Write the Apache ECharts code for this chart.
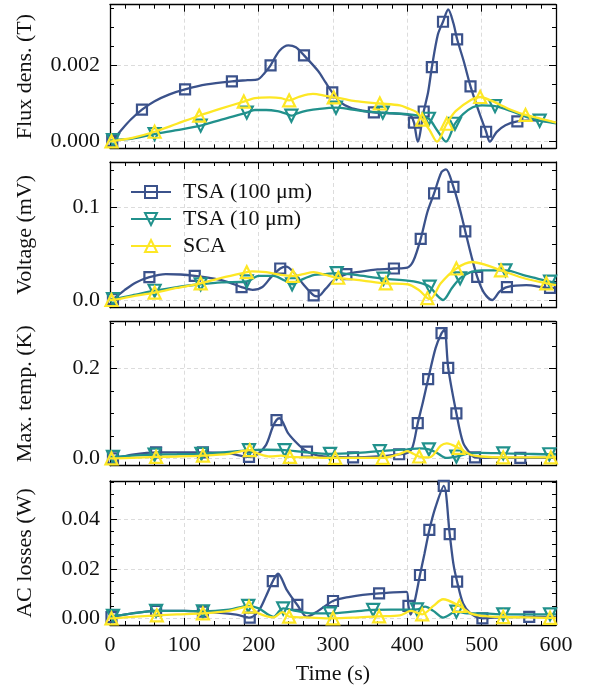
<!DOCTYPE html>
<html><head><meta charset="utf-8">
<script src="https://cdn.jsdelivr.net/npm/echarts@6/dist/echarts.min.js"></script>
<style>html,body{margin:0;padding:0;background:#fff}#c{width:589px;height:690px}</style>
</head><body><div id="c"></div>
<script>
// ---------- data ----------
const xTicks = [0, 100, 200, 300, 400, 500, 600];
const seriesNames = ['TSA (100 μm)', 'TSA (10 μm)', 'SCA'];
const yNames = ['Flux dens. (T)', 'Voltage (mV)', 'Max. temp. (K)', 'AC losses (W)'];
const yMin = [-0.000173, -0.0083, -0.0164, -0.0027];
const yMax = [0.003586, 0.1489, 0.3036, 0.05548];
const yStep = [0.002, 0.1, 0.2, 0.02];
const yMinorSplit = [4, 5, 4, 4];
const yDecimals = [3, 1, 1, 2];

// Flux density
const fluxTSA100 = [[0,0],[15,0.0003],[28,0.00058],[60,0.00106],[80,0.00124],[130,0.0015],[185,0.00161],[199,0.00163],[208,0.0018],[228,0.00238],[240,0.00252],[250,0.00247],[280,0.00185],[290,0.00155],[309,0.00105],[323,0.00089],[340,0.00081],[380,0.00074],[400,0.00071],[405,0.00067],[414,0.0],[428,0.0013],[441,0.0028],[455,0.00346],[462,0.0031],[476,0.0021],[496,0.0008],[511,0.0],[520,0.00025],[532,0.00043],[570,0.00056],[600,0.0005]];
const fluxTSA100Marks = [[3,0.00002],[43,0.00084],[101,0.00137],[164,0.00158],[216,0.002],[261,0.00226],[299,0.00129],[355,0.00077],[409,0.0005],[422,0.00079],[433,0.00195],[448,0.00314],[467,0.00268],[485,0.00145],[506,0.00026],[548,0.00053]];
const fluxTSA10 = [[0,0],[30,0.00008],[90,0.0003],[150,0.00058],[195,0.00083],[210,0.00083],[225,0.0008],[236,0.00074],[252,0.00074],[265,0.00081],[282,0.00086],[320,0.00086],[340,0.0008],[400,0.00072],[415,0.00068],[440,0.0003],[452,0.0],[475,0.00072],[488,0.0009],[500,0.00095],[540,0.0008],[560,0.00065],[600,0.00048]];
const fluxTSA10Marks = [[4,0.00004],[60,0.0002],[122,0.00042],[184,0.00076],[244,0.00068],[304,0.00089],[367,0.00076],[429,0.0006],[464,0.00047],[518,0.00093],[578,0.00055]];
const fluxSCA = [[0,0],[30,0.0001],[90,0.00047],[150,0.00087],[195,0.00114],[215,0.00116],[230,0.00114],[255,0.00118],[273,0.00125],[290,0.0012],[309,0.00114],[330,0.00106],[390,0.00095],[400,0.00088],[412,0.00078],[430,0.0003],[440,0.0],[465,0.0008],[486,0.0011],[512,0.00108],[540,0.00083],[580,0.0006],[600,0.0005]];
const fluxSCAMarks = [[2,0.00001],[60,0.00026],[120,0.00068],[180,0.00105],[241,0.00108],[301,0.00116],[363,0.001],[420,0.00058],[453,0.00047],[498,0.00117],[559,0.0007]];

// Voltage
const voltTSA100 = [[0,0],[20,0.011],[35,0.019],[75,0.028],[95,0.0275],[140,0.023],[160,0.019],[192,0.011],[205,0.014],[217,0.025],[237,0.036],[247,0.03],[260,0.017],[280,0.004],[290,0.012],[302,0.022],[340,0.031],[360,0.033],[400,0.035],[408,0.042],[427,0.095],[446,0.138],[452,0.141],[470,0.1],[486,0.048],[503,0.008],[514,0],[524,0.009],[560,0.016],[600,0.013]];
const voltTSA100Marks = [[4,0.001],[53,0.0247],[114,0.026],[177,0.014],[229,0.034],[274,0.005],[318,0.028],[382,0.034],[418,0.066],[436,0.115],[462,0.122],[478,0.074],[494,0.025],[534,0.014],[592,0.013]];
const voltTSA10 = [[0,0],[30,0.005],[90,0.014],[150,0.019],[200,0.026],[220,0.026],[235,0.021],[258,0.022],[275,0.027],[290,0.028],[330,0.027],[400,0.021],[415,0.019],[440,0.005],[448,0],[460,0.013],[485,0.03],[500,0.032],[560,0.026],[600,0.018]];
const voltTSA10Marks = [[4,0.001],[60,0.01],[122,0.017],[184,0.02],[245,0.017],[305,0.029],[368,0.023],[430,0.0144],[471,0.0234],[532,0.032],[592,0.0198]];
const voltSCA = [[0,0],[30,0.004],[90,0.013],[150,0.024],[191,0.031],[210,0.03],[230,0.027],[260,0.028],[274,0.03],[290,0.027],[340,0.021],[400,0.017],[415,0.011],[431,0.001],[445,0.018],[487,0.041],[505,0.038],[555,0.024],[600,0.016]];
const voltSCAMarks = [[2,0],[60,0.008],[122,0.018],[184,0.03],[246,0.026],[307,0.024],[371,0.018],[427,0.002],[466,0.034],[526,0.032],[587,0.018]];

// Max temperature
const tempTSA100 = [[0,0],[30,0.008],[100,0.013],[160,0.011],[197,0.007],[210,0.03],[219,0.07],[228,0.089],[240,0.055],[255,0.028],[280,0.006],[300,0.003],[360,0.004],[400,0.012],[407,0.025],[421,0.125],[438,0.245],[450,0.286],[475,0.035],[485,0.01],[520,0.001],[600,0.001]];
const tempTSA100Marks = [[4,0],[62,0.013],[125,0.013],[187,0.003],[224,0.085],[265,0.015],[327,0.002],[389,0.009],[414,0.078],[428,0.176],[446,0.278],[455,0.201],[466,0.1],[491,0.002],[552,0.001]];
const tempTSA10 = [[0,0.003],[30,0.006],[90,0.009],[160,0.014],[210,0.019],[260,0.014],[330,0.012],[400,0.02],[417,0.022],[440,0.012],[452,0.001],[480,0.01],[500,0.012],[560,0.01],[600,0.009]];
const tempTSA10Marks = [[4,0.003],[60,0.008],[123,0.01],[187,0.018],[235,0.018],[296,0.01],[363,0.016],[429,0.02],[466,0.004],[529,0.011],[591,0.009]];
const tempSCA = [[0,0],[30,0.001],[90,0.004],[160,0.01],[200,0.01],[215,0.004],[230,0.006],[270,0.002],[330,0.001],[390,0.01],[400,0.016],[408,0.01],[430,0.002],[445,0.028],[453,0.033],[485,0.008],[500,0.004],[560,0.002],[600,0.002]];
const tempSCAMarks = [[2,0],[62,0.003],[125,0.006],[188,0.018],[242,0.003],[303,0.001],[367,0.001],[416,0.004],[469,0.023],[529,0.002],[593,0.002]];

// AC losses
const lossTSA100 = [[0,0],[30,0.002],[100,0.003],[170,0.0015],[200,0.003],[210,0.009],[226,0.018],[238,0.0114],[265,0.0006],[280,0.003],[323,0.0087],[340,0.0095],[399,0.0107],[404.5,0.0015],[410,0.007],[423,0.026],[438,0.045],[462,0.022],[475,0.006],[485,0.002],[530,0.0005],[600,0.0005]];
const lossTSA100Marks = [[2,0.0005],[62,0.003],[125,0.0027],[188,0.0003],[219,0.015],[252,0.0054],[300,0.007],[362,0.0101],[401.5,0.005],[417,0.0175],[429.6,0.0357],[449,0.0535],[457,0.034],[467,0.0148],[501,0],[564,0.0006]];
const lossTSA10 = [[0,0.001],[30,0.002],[100,0.003],[160,0.0035],[200,0.004],[220,0.0006],[228,0.003],[250,0.003],[270,0.002],[330,0.0028],[390,0.0035],[424,0.0047],[435,0.003],[448,0.0003],[480,0.002],[500,0.002],[560,0.0016],[600,0.0016]];
const lossTSA10Marks = [[4,0.001],[62,0.003],[125,0.0028],[186,0.005],[233,0.004],[296,0.002],[354,0.0034],[413,0.0036],[466,0.0027],[529,0.0016],[592,0.0016]];
const lossSCA = [[0,0],[30,0.0006],[90,0.0016],[160,0.003],[200,0.002],[220,0.0004],[232,0.0025],[270,0.0003],[330,0.0003],[390,0.0012],[405,0.003],[435,0.005],[448,0.0077],[485,0.002],[500,0.001],[560,0.0004],[600,0.0002]];
const lossSCAMarks = [[2,0],[63,0.0012],[125,0.002],[187,0.0047],[241,0.0007],[300,0],[362,0.0008],[420,0.0016],[470,0.005],[529,0.0005],[592,0.0002]];

const panelCurves = [
  [[fluxTSA100, fluxTSA100Marks], [fluxTSA10, fluxTSA10Marks], [fluxSCA, fluxSCAMarks]],
  [[voltTSA100, voltTSA100Marks], [voltTSA10, voltTSA10Marks], [voltSCA, voltSCAMarks]],
  [[tempTSA100, tempTSA100Marks], [tempTSA10, tempTSA10Marks], [tempSCA, tempSCAMarks]],
  [[lossTSA100, lossTSA100Marks], [lossTSA10, lossTSA10Marks], [lossSCA, lossSCAMarks]]
];

// ---------- style ----------
const FONT = "'Liberation Serif', serif";
const colors = ['#3b528b', '#21918c', '#fde725'];
const symbols = ['rect', 'path://M0,0L2,0L1,2Z', 'path://M1,0L2,2L0,2Z'];
const symSizes = [10, 12, 12];
const gridTops = [4.7, 162, 321.7, 481];
const gridHeights = [143.6, 145.7, 144, 144];

function merge(curve, marks) {
  const pts = curve.filter(p => !marks.some(m => Math.abs(m[0] - p[0]) < 1))
    .map(p => ({ value: p, symbol: 'none' }));
  marks.forEach(p => pts.push({ value: p }));
  pts.sort((a, b) => a.value[0] - b.value[0]);
  return pts;
}

const grids = [], xAxes = [], yAxes = [], series = [];
const tickLine = { color: '#000', width: 1 };
for (let i = 0; i < 4; i++) {
  grids.push({ left: 110, width: 446, top: gridTops[i], height: gridHeights[i], outerBoundsMode: 'none' });
  const baseX = {
    type: 'value', gridIndex: i, min: xTicks[0], max: xTicks[xTicks.length - 1], interval: xTicks[1] - xTicks[0],
    axisLine: { show: true, onZero: false, lineStyle: { color: '#000', width: 1.3 } },
    axisTick: { show: true, inside: true, length: 7, lineStyle: tickLine },
    minorTick: { show: true, splitNumber: 5, length: 4, lineStyle: tickLine }
  };
  xAxes.push(Object.assign({}, baseX, {
    position: 'bottom',
    axisLabel: { show: i === 3, margin: 9, fontFamily: FONT, fontSize: 22, color: '#111' },
    splitLine: { show: true, showMinLine: false, showMaxLine: false, lineStyle: { color: '#dcdcdc', type: [4, 3], width: 1 } },
    name: i === 3 ? 'Time (s)' : '', nameLocation: 'middle', nameGap: 38,
    nameTextStyle: { fontFamily: FONT, fontSize: 22, color: '#111' }
  }));
  xAxes.push(Object.assign({}, baseX, { position: 'top', axisLabel: { show: false }, splitLine: { show: false } }));
  const baseY = {
    type: 'value', gridIndex: i, min: yMin[i], max: yMax[i],
    minInterval: yStep[i], maxInterval: yStep[i], splitNumber: 2,
    axisLine: { show: true, onZero: false, lineStyle: { color: '#000', width: 1.3 } },
    axisTick: { show: true, inside: true, length: 7, lineStyle: tickLine },
    minorTick: { show: true, splitNumber: yMinorSplit[i], length: 4, lineStyle: tickLine }
  };
  const dec = yDecimals[i];
  yAxes.push(Object.assign({}, baseY, {
    position: 'left',
    axisLabel: { show: true, margin: 10, fontFamily: FONT, fontSize: 22, color: '#111', showMinLabel: false, showMaxLabel: false,
      formatter: v => Number(v).toFixed(dec) },
    splitLine: { show: true, showMinLine: false, showMaxLine: false, lineStyle: { color: '#dcdcdc', type: [4, 3], width: 1 } },
    name: yNames[i], nameLocation: 'middle', nameGap: 74,
    nameTextStyle: { fontFamily: FONT, fontSize: 22, color: '#111' }
  }));
  yAxes.push(Object.assign({}, baseY, { position: 'right', axisLabel: { show: false }, splitLine: { show: false } }));

  for (let s = 0; s < 3; s++) {
    const [curve, marks] = panelCurves[i][s];
    series.push({
      type: 'line', name: seriesNames[s], xAxisIndex: 2 * i, yAxisIndex: 2 * i,
      data: merge(curve, marks), smooth: 0.3,
      symbol: symbols[s], symbolSize: symSizes[s], showSymbol: true, showAllSymbol: true,
      lineStyle: { color: colors[s], width: 2.3 },
      itemStyle: { color: 'rgba(255,255,255,0)', borderColor: colors[s], borderWidth: 2.2 },
      emphasis: { disabled: true }, animation: false, z: 2 + s
    });
  }
}

const chart = echarts.init(document.getElementById('c'), null, { renderer: 'canvas' });
chart.setOption({
  animation: false,
  backgroundColor: '#fff',
  grid: grids, xAxis: xAxes, yAxis: yAxes, series: series,
  legend: {
    data: seriesNames, orient: 'vertical', left: 125, top: 176,
    itemWidth: 40, itemHeight: 15, itemGap: 5,
    textStyle: { fontFamily: FONT, fontSize: 22, color: '#111', padding: [0, 0, 0, 7], lineHeight: 22 }
  }
});
</script></body></html>
